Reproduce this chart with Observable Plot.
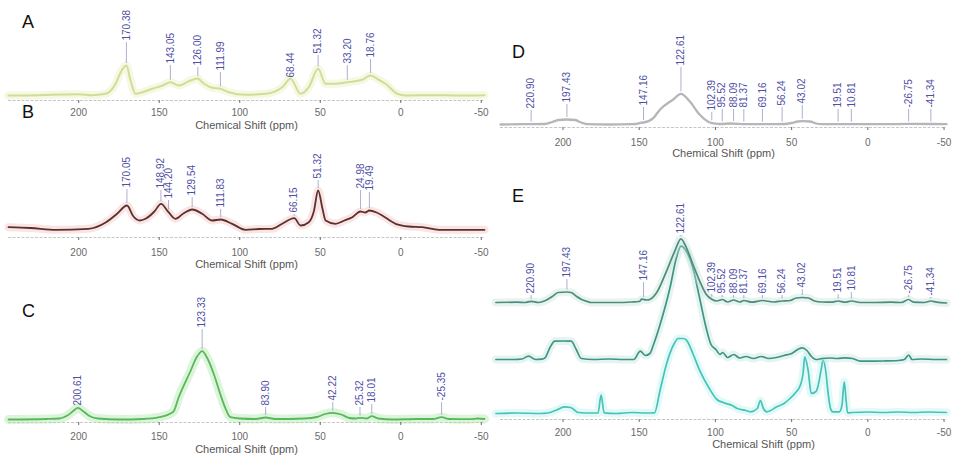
<!DOCTYPE html>
<html><head><meta charset="utf-8">
<script src="https://cdn.jsdelivr.net/npm/d3@7"></script>
<script src="https://cdn.jsdelivr.net/npm/@observablehq/plot@0.6"></script>
<style>
html,body{margin:0;padding:0;background:#fff;}
#fig{position:relative;width:953px;height:458px;overflow:hidden;font-family:"Liberation Sans",Arial,sans-serif;}
#fig .p{position:absolute;}
#fig .p svg{overflow:visible;background:transparent;}
.letter{position:absolute;font-size:18px;line-height:18px;color:#111;}
</style></head><body><div id="fig"></div>
<script>
// ---------- data ----------
const tickValues = [200, 150, 100, 50, 0, -50];
const axisTitle = "Chemical Shift (ppm)";
const panelLetters = ["A", "B", "C", "D", "E"];

// [ppm, intensity]
const spectrumA = [[243.6,0],[225,0.3],[210,1],[200,1.3],[192,0.3],[183.3,1.7],[177.1,11.7],[174,23],[170.38,30],[167.8,15],[164.7,1.7],[162.7,2.3],[154.4,6.7],[148,10],[143.05,13.3],[137.8,10],[132,14],[126,17],[123.3,13.3],[117.1,7.7],[111.99,6.7],[106.8,3.3],[96.4,0.7],[84,1.7],[73.6,8.3],[68.44,16.7],[62.2,1.7],[57.1,8.3],[51.32,26.7],[46.7,11.7],[40.5,11.7],[33.2,13.3],[23.9,15.7],[18.76,20],[14,16],[9.4,11.7],[2.2,1.7],[-3,0],[-20,0.3],[-35,0],[-52,0.3]];
const peaksA = [170.38, 143.05, 126.00, 111.99, 68.44, 51.32, 33.20, 18.76];
const labelLevelsA = [55, 32, 30, 25, 18, 42, 32, 38];

const spectrumB = [[243.6,4.3],[230,3.5],[214,1.7],[194,2.7],[183,9.3],[176,18],[170.05,26],[166,15],[162,11],[158.5,12.7],[153,20],[148.92,27.7],[144.2,19.3],[140,12.7],[135,18],[129.54,22],[123.3,17.7],[117.1,11],[111.83,12],[104.7,7.7],[96.4,1.7],[88,2.5],[79.8,2.7],[73.6,7.7],[66.15,13.3],[62.2,6],[57.1,9.3],[54,20],[51.32,41],[48.5,22],[46.7,11],[40.5,7.7],[35,11],[30.1,14.3],[24.98,20],[22,19],[19.49,21],[15,19],[11.5,16],[3.2,7.7],[-5,5],[-13.4,4.3],[-23.7,1.7],[-48.5,1.7],[-52,1.7]];
const peaksB = [170.05, 148.92, 144.20, 129.54, 111.83, 66.15, 51.32, 24.98, 19.49];
const labelLevelsB = [44, 43, 33, 36, 24, 19, 53, 43, 41];

const spectrumC = [[243.6,0],[220,0.5],[212,1],[207,4],[203,9],[200.61,11.7],[197,8],[193,3.3],[188,1],[175,0],[160,0.5],[150,2.3],[143,6],[141,8.3],[138,21.7],[130.7,48],[126.5,63],[123.33,68.3],[120.3,61.7],[116,45],[112,25],[109,11.7],[105.8,2.3],[100,1],[90,0.5],[83.9,2],[78,0.5],[60,1],[52,2.5],[47,5.5],[42.22,6.7],[37,5],[32,1.5],[28,1],[25.32,1.7],[21,1],[18.01,3.3],[14,1],[5,0],[-10,0.5],[-20,0.5],[-25.35,2.3],[-30,0.5],[-43,0.3],[-48,1],[-52,0.5]];
const peaksC = [200.61, 123.33, 83.90, 42.22, 25.32, 18.01, -25.35];
const labelLevelsC = [14, 92, 14, 19, 14, 17, 19];

const spectrumD = [[241,0],[226,0.3],[212,0.5],[207,2.5],[203,4.5],[197.43,5],[192,4.5],[188,2],[184,0.3],[170,0],[155,0.3],[152,0.5],[149.3,1.7],[147.16,2],[140.6,6.7],[136.3,15],[127.7,25],[122.61,30.7],[116.9,23.3],[110.4,10],[104,2.3],[100,0.8],[97,0.5],[90,1],[80,0.3],[65,0.3],[55,0.5],[50,1.5],[46,3],[43.02,3.3],[38,3],[34,1],[30,0.3],[10,0.3],[-10,0.3],[-26.75,0.6],[-41.34,0.5],[-51.6,0.3]];
const peaksDE = [220.90, 197.43, 147.16, 122.61, 102.39, 95.52, 88.09, 81.37, 69.16, 56.24, 43.02, 19.51, 10.81, -26.75, -41.34];
const labelLevelsD = [16, 22, 19, 59, 14, 17, 17, 17, 17, 19, 21, 17, 17, 17, 17];
const labelLevelsE = [9, 25, 22, 69, 10, 9, 9, 9, 9, 9, 15, 10, 12, 9, 7];

const spectrumE1 = [[244,0],[230,0.3],[225,0],[220.9,1.2],[216,0],[211.8,1.7],[207,6],[203.2,10],[197.43,10.5],[194.6,10],[191,6],[188.1,3.3],[184,1],[181.6,0],[165,0],[155,0.5],[150,1],[148.2,3.3],[145,2.5],[142.8,3.3],[138.5,10],[132,31.7],[126.6,51.7],[122.61,63.7],[119.1,55],[114.8,38.3],[110.4,21.7],[106.1,8.3],[102.39,3.3],[99,1.5],[95.52,3],[92,0.5],[88.09,2.5],[84,0.5],[81.37,2],[76,0.3],[69.16,2],[62,0.5],[56.24,1.5],[51,2],[47,4.5],[43.02,5],[39,4.5],[35,1.5],[30,0.5],[24,0.3],[19.51,1.5],[15,0.3],[10.81,1.5],[5,0],[-5,0],[-15,0.3],[-22,0],[-26.75,3],[-30,0.3],[-37,0],[-41.34,1.5],[-45,0.3],[-51.6,-0.5]];
const spectrumE2 = [[244,0],[232,0],[227,0.5],[222.6,3.3],[218,0],[214,0.3],[211.8,1.7],[208.6,11.7],[205.4,18.3],[200,18.5],[194.6,18.3],[191.3,10],[188,1],[180,0],[170,0.5],[160,0],[153.6,0],[149.3,8.3],[146,4],[143,6],[140.6,15],[136.3,35],[129.8,71.7],[125.6,101.7],[122.61,113.3],[119.1,108.3],[114.8,91.7],[110.4,61.7],[106.1,31.7],[102.9,15],[99.7,10],[97,5],[95.3,7],[92,2],[88,5],[84,1.5],[80,3],[75,1],[70,3],[65,1],[60,2],[55,4],[50,6],[46,10],[43.02,11.7],[40,9],[37,3],[34,0],[30,1],[25,1.5],[20,1],[15,1.7],[10,1],[5,-1.7],[0,-1.7],[-10,-1.5],[-20,-1],[-24,0],[-26.75,4.5],[-29,0],[-35,0.5],[-45,0],[-51.6,0]];
const spectrumE3 = [[244,0],[230,0.5],[215,0],[210,0.5],[205,3],[199,6.7],[195,6],[190,1],[180,0.5],[177,0.7],[175,18.3],[173,0.7],[165,0],[155,1],[145,0.5],[140,0.7],[136.3,23.3],[132,50],[127,70],[124.5,75],[121,75],[119,73.3],[114.8,60],[110.4,43.3],[104,25],[99,14],[95,11],[89,8],[85.6,5],[80,3],[77,1.7],[72.5,5],[70.5,13],[68.5,5],[66.2,1.7],[59.7,6.7],[55,10],[51.1,15],[46.8,22],[44.7,26.7],[42.5,40],[41.4,56.7],[39.2,43.3],[37.1,20],[34,22],[32.8,26.7],[30.5,45],[29.5,53.3],[27.4,40],[26.3,23.3],[24.5,5],[23,1.7],[18.8,1.7],[17,8],[15.5,31.7],[14.2,12],[13.3,0.7],[10,1],[0,1.5],[-10,1],[-20,1.5],[-30,1],[-40,1.5],[-51.6,1]];

// ---------- drawing ----------
const FONT = '"Liberation Sans", Arial, sans-serif';
const fig = document.getElementById("fig");

function heightAt(data, x) {
  const s = data.slice().sort((a, b) => a[0] - b[0]);
  const i = d3.bisector(d => d[0]).left(s, x);
  if (i <= 0) return s[0][1];
  if (i >= s.length) return s[s.length - 1][1];
  const a = s[i - 1], b = s[i];
  return a[1] + (x - a[0]) / (b[0] - a[0]) * (b[1] - a[1]);
}

function panel(cfg) {
  const {left, top, width, height, base, axisY, mLeft, mRight, domain, traces,
         peaks, levels, labelTrace, labelDy = 0, tickPad, titleDy, titleDx = 0} = cfg;
  const yMax = base - top, yMin = -(axisY - base);
  const marks = [];
  marks.push(Plot.ruleY([yMin], {stroke: "#c6c6c6", strokeWidth: 1, strokeDasharray: "3,1.5"}));
  for (const t of traces) {
    if (t.halo) marks.push(Plot.lineY(t.data, {x: d => d[0], y: d => d[1], dy: t.dy || 0, stroke: t.halo, strokeWidth: t.haloWidth || 8, strokeOpacity: t.haloOpacity || 0.3, curve: "monotone-x"}));
    marks.push(Plot.lineY(t.data, {x: d => d[0], y: d => d[1], dy: t.dy || 0, stroke: t.color, strokeWidth: t.width || 1.7, curve: "monotone-x"}));
  }
  if (peaks) {
    const lab = peaks.map((p, i) => ({x: p, level: levels[i], h: heightAt(labelTrace, p)}));
    marks.push(Plot.ruleX(lab.filter(d => d.level - d.h > 5), {x: "x", y1: d => d.h + 2, y2: d => d.level - 2, dy: labelDy, stroke: "#9a9ac4", strokeWidth: 0.8}));
    marks.push(Plot.text(lab, {x: "x", y: "level", text: d => d.x.toFixed(2), rotate: -90, textAnchor: "start", lineAnchor: "middle", dy: labelDy, fill: "#4f4fa6", fontSize: 10}));
  }
  marks.push(Plot.axisX({ticks: tickValues, tickSize: 3, tickPadding: tickPad, tickFormat: d => String(d), color: "#6a6a6a", fontSize: 10, label: null}));
  marks.push(Plot.text([axisTitle], {frameAnchor: "bottom", dy: titleDy, dx: titleDx, fill: "#555", fontSize: 11}));
  const svg = Plot.plot({
    width, height,
    marginLeft: mLeft, marginRight: mRight, marginTop: 0, marginBottom: top + height - axisY,
    x: {domain},
    y: {domain: [yMin, yMax], axis: null},
    style: {fontFamily: FONT, fontSize: "10px", background: "transparent", overflow: "visible"},
    marks
  });
  const div = document.createElement("div");
  div.className = "p";
  div.style.left = left + "px"; div.style.top = top + "px";
  div.style.width = width + "px"; div.style.height = height + "px";
  div.appendChild(svg);
  fig.appendChild(div);
}

const leftDomain = [243.6, -52];
const rightDomain = [241, -51.6];

panel({left: 0, top: 0, width: 490, height: 135, base: 95, axisY: 100, mLeft: 8, mRight: 6, domain: leftDomain,
  traces: [{data: spectrumA, color: "#d2dc9a", width: 2, halo: "#eef2c6", haloOpacity: 0.5}],
  peaks: peaksA, levels: labelLevelsA, labelTrace: spectrumA, tickPad: 5, titleDy: 28});

panel({left: 0, top: 135, width: 490, height: 140, base: 231, axisY: 237, mLeft: 8, mRight: 6, domain: leftDomain,
  traces: [{data: spectrumB, color: "#5e2f2f", width: 1.8, halo: "#f0b4b4", haloOpacity: 0.35}],
  peaks: peaksB, levels: labelLevelsB, labelTrace: spectrumB, tickPad: 8.5, titleDy: 30.5});

panel({left: 0, top: 275, width: 490, height: 183, base: 419, axisY: 422, mLeft: 8, mRight: 6, domain: leftDomain,
  traces: [{data: spectrumC, color: "#5cb65a", width: 1.8, halo: "#a6e6a6", haloOpacity: 0.4, haloWidth: 9}],
  peaks: peaksC, levels: labelLevelsC, labelTrace: spectrumC, tickPad: 7.5, titleDy: 30});

panel({left: 490, top: 30, width: 463, height: 140, base: 124, axisY: 127, mLeft: 10, mRight: 7, domain: rightDomain,
  traces: [{data: spectrumD, color: "#b6b6b6", width: 2.3}],
  peaks: peaksDE, levels: labelLevelsD, labelTrace: spectrumD, tickPad: 8, titleDy: 29});

panel({left: 490, top: 180, width: 463, height: 278, base: 413, axisY: 419, mLeft: 10, mRight: 7, domain: rightDomain,
  traces: [
    {data: spectrumE3, color: "#47c2b8", width: 1.7, halo: "#b4f0ea", haloOpacity: 0.4},
    {data: spectrumE2, color: "#3e9585", width: 1.7, dy: -54, halo: "#bde4dc", haloOpacity: 0.4},
    {data: spectrumE1, color: "#4d8c7c", width: 1.7, dy: -111, halo: "#c4e0d8", haloOpacity: 0.4}
  ],
  peaks: peaksDE, levels: labelLevelsE, labelTrace: spectrumE1, labelDy: -111, tickPad: 6.5, titleDy: 28, titleDx: 40});

const letterPos = [[22, 13], [22, 103], [22, 302], [512, 43], [512, 187]];
panelLetters.forEach((L, i) => {
  const d = document.createElement("div");
  d.className = "letter";
  d.textContent = L;
  d.style.left = letterPos[i][0] + "px";
  d.style.top = letterPos[i][1] + "px";
  fig.appendChild(d);
});
</script></body></html>
